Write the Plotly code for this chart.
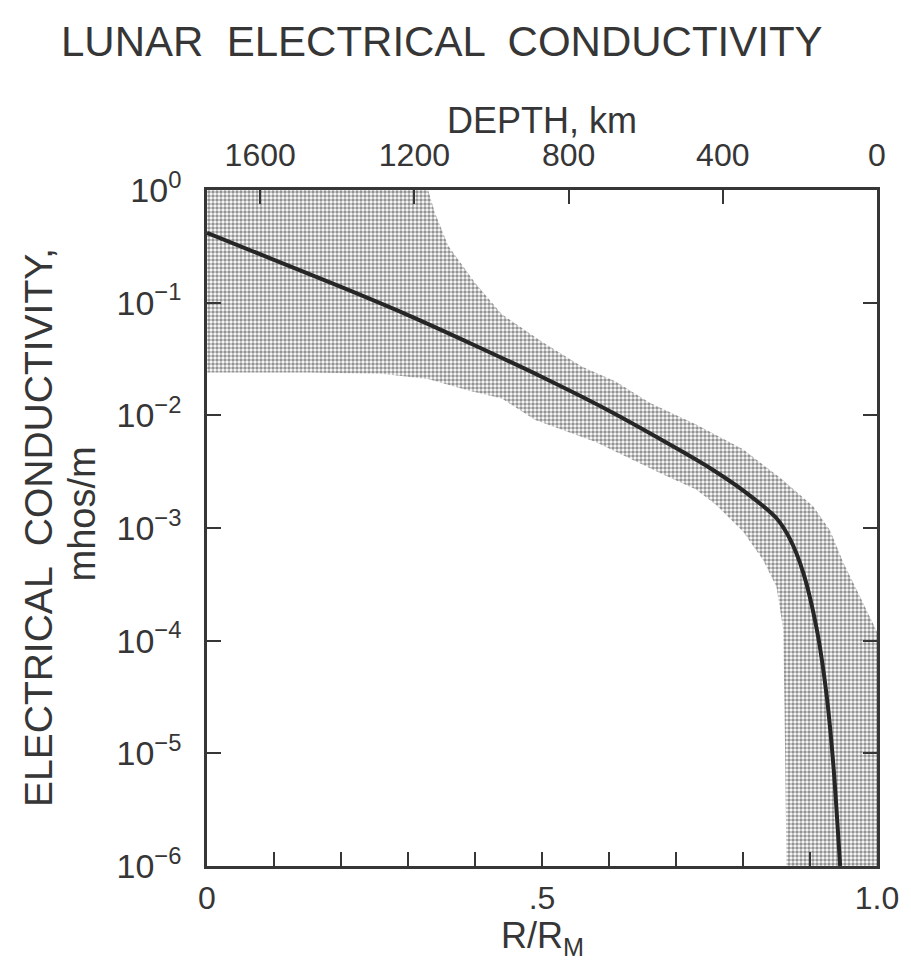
import plotly.graph_objects as go

# Radius as a fraction of the lunar radius
r_profile = [0.0, 0.1, 0.2, 0.3, 0.4, 0.5, 0.6, 0.7, 0.75, 0.8, 0.85,
             0.87, 0.89, 0.91, 0.925, 0.935, 0.945]
# Preferred conductivity profile, mhos/m
sigma_profile = [0.417, 0.240, 0.138, 0.0776, 0.0417, 0.0219, 0.0110,
                 0.00513, 0.00343, 0.00216, 0.00122, 8.0e-4, 4.0e-4,
                 1.27e-4, 3.2e-5, 7.7e-6, 1.0e-6]

# Upper limit of the allowed band
r_upper = [0.0, 0.33, 0.34, 0.36, 0.40, 0.44, 0.50, 0.56, 0.61, 0.66,
           0.73, 0.80, 0.855, 0.905, 0.93, 0.95, 0.97, 1.0, 1.0]
sigma_upper = [1.0, 1.0, 0.63, 0.32, 0.15, 0.079, 0.045, 0.027, 0.020,
               0.013, 0.0083, 0.0050, 0.0028, 0.00155, 0.00095, 0.00049,
               0.00028, 0.00012, 1.0e-6]

# Lower limit of the allowed band
r_lower = [0.0, 0.15, 0.26, 0.33, 0.39, 0.44, 0.49, 0.58, 0.68, 0.73,
           0.76, 0.80, 0.83, 0.85, 0.86, 0.862, 0.865]
sigma_lower = [0.024, 0.024, 0.0234, 0.021, 0.0166, 0.0141, 0.0091,
               0.0058, 0.0030, 0.0022, 0.0016, 0.00093, 0.00052, 0.00030,
               0.000126, 2.5e-5, 1.0e-6]

# Axis ticks
r_ticks = [0.0, 0.1, 0.2, 0.3, 0.4, 0.5, 0.6, 0.7, 0.8, 0.9, 1.0]
r_labels = ["0", "", "", "", "", ".5", "", "", "", "", "1.0"]
depth_ticks = [1600, 1200, 800, 400, 0]
depth_labels = ["1600", "1200", "800", "400", "0"]
sigma_ticks = [1, 1e-1, 1e-2, 1e-3, 1e-4, 1e-5, 1e-6]
sigma_labels = ["10<sup>0</sup>", "10<sup>−1</sup>", "10<sup>−2</sup>",
                "10<sup>−3</sup>", "10<sup>−4</sup>", "10<sup>−5</sup>",
                "10<sup>−6</sup>"]
lunar_radius_km = 1738

INK = "#363636"
FONT = "Liberation Sans"

fig = go.Figure()

# Stippled uncertainty band: upper edge left to right, then lower edge back
band_x = r_upper + r_lower[::-1]
band_y = sigma_upper + sigma_lower[::-1]
fig.add_trace(go.Scatter(
    x=band_x, y=band_y, mode="lines", fill="toself",
    line=dict(width=0, color="rgba(0,0,0,0)"),
    fillcolor="rgba(0,0,0,0)",
    fillpattern=dict(shape=".", size=4, solidity=0.6,
                     fgcolor="#2a2a2a", bgcolor="rgba(255,255,255,0)"),
    hoverinfo="skip", showlegend=False,
))

fig.add_trace(go.Scatter(
    x=r_profile, y=sigma_profile, mode="lines",
    line=dict(color="#262626", width=4, shape="spline", smoothing=0.7),
    showlegend=False,
))

# Depth axis across the top, tied to the same plot area
fig.add_trace(go.Scatter(
    x=[lunar_radius_km, 0], y=[1e-6, 1e-6], xaxis="x2", mode="markers",
    marker=dict(opacity=0), hoverinfo="skip", showlegend=False,
))

axis_common = dict(
    showline=True, linecolor=INK, linewidth=2.5, showgrid=False,
    zeroline=False, ticks="inside", ticklen=14, tickwidth=2,
    tickcolor=INK,
)

fig.update_layout(
    width=911, height=960,
    margin=dict(l=207, r=30, t=190, b=94),
    paper_bgcolor="white", plot_bgcolor="white",
    xaxis=dict(range=[0, 1], tickmode="array", tickvals=r_ticks,
               ticktext=r_labels, ticklabelstandoff=2,
               tickfont=dict(family=FONT, size=32, color=INK),
               **axis_common),
    xaxis2=dict(range=[lunar_radius_km, 0], overlaying="x", side="top",
                tickmode="array", tickvals=depth_ticks,
                ticktext=depth_labels, ticklabelstandoff=8,
                tickfont=dict(family=FONT, size=32, color=INK),
                **axis_common),
    yaxis=dict(type="log", range=[-6, 0], tickmode="array",
               tickvals=sigma_ticks, ticktext=sigma_labels, mirror="ticks",
               ticklabelstandoff=16,
               tickfont=dict(family=FONT, size=34, color=INK),
               **axis_common),
    annotations=[
        dict(text="LUNAR  ELECTRICAL  CONDUCTIVITY", xref="paper",
             yref="paper", x=0.35, y=1.0, yshift=149, showarrow=False,
             xanchor="center", yanchor="middle",
             font=dict(family=FONT, size=42, color=INK)),
        dict(text="DEPTH, km", xref="paper", yref="paper", x=0.5, y=1.0,
             yshift=70, showarrow=False, xanchor="center", yanchor="middle",
             font=dict(family=FONT, size=36, color=INK)),
        dict(text="R/R<sub>M</sub>", xref="paper", yref="paper", x=0.5,
             y=0.0, yshift=-72, showarrow=False, xanchor="center",
             yanchor="middle", font=dict(family=FONT, size=36, color=INK)),
        dict(text="ELECTRICAL  CONDUCTIVITY,", xref="paper", yref="paper",
             x=0.0, xshift=-169, y=0.5, showarrow=False, textangle=-90,
             xanchor="center", yanchor="middle",
             font=dict(family=FONT, size=39, color=INK)),
        dict(text="mhos/m", xref="paper", yref="paper", x=0.0,
             xshift=-125, y=0.52, showarrow=False, textangle=-90,
             xanchor="center", yanchor="middle",
             font=dict(family=FONT, size=38, color=INK)),
    ],
)

fig.write_html("out.html")
